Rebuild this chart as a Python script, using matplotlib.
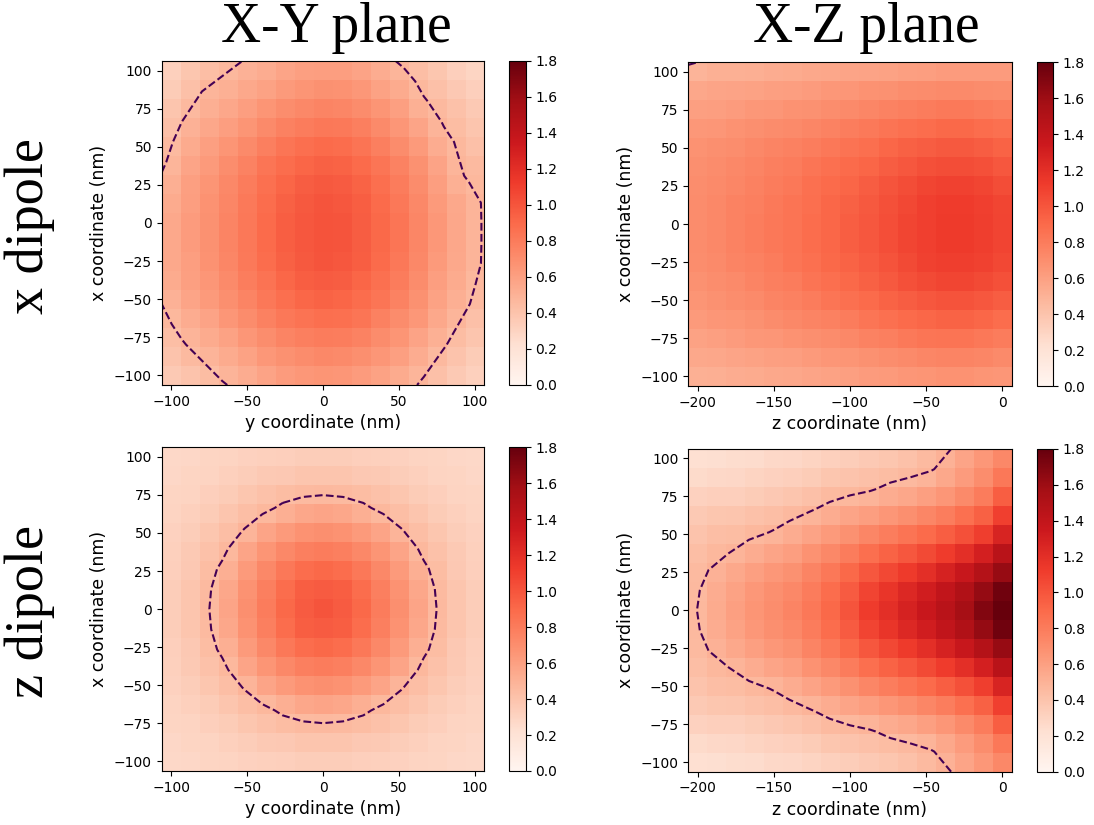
import numpy as np
import matplotlib
matplotlib.use("Agg")
import matplotlib.pyplot as plt

# ---------------- data (rows listed top -> bottom, i.e. x = +100 ... -100) -------------
x_nm = [-100, -87.5, -75, -62.5, -50, -37.5, -25, -12.5, 0, 12.5, 25, 37.5, 50, 62.5, 75, 87.5, 100]
y_nm = [-100, -87.5, -75, -62.5, -50, -37.5, -25, -12.5, 0, 12.5, 25, 37.5, 50, 62.5, 75, 87.5, 100]
z_nm = [-200, -187.5, -175, -162.5, -150, -137.5, -125, -112.5, -100, -87.5, -75, -62.5, -50, -37.5, -25, -12.5, 0]

xdip_xy = [
    [.32, .38, .43, .47, .50, .53, .57, .60, .61, .61, .58, .53, .48, .43, .38, .33, .29],
    [.35, .42, .48, .51, .55, .59, .63, .66, .68, .67, .64, .59, .54, .47, .42, .37, .33],
    [.39, .46, .52, .56, .61, .66, .70, .73, .75, .74, .71, .66, .60, .51, .46, .41, .36],
    [.42, .50, .56, .61, .66, .72, .77, .80, .82, .81, .78, .72, .65, .57, .49, .44, .39],
    [.45, .54, .60, .66, .72, .78, .83, .87, .89, .88, .84, .78, .71, .63, .53, .47, .42],
    [.48, .57, .63, .70, .76, .83, .88, .92, .94, .93, .89, .83, .76, .68, .58, .48, .45],
    [.52, .60, .66, .73, .80, .86, .92, .96, .98, .97, .93, .87, .80, .71, .61, .51, .47],
    [.54, .61, .67, .74, .81, .88, .94, .98, 1.00, .99, .95, .89, .82, .73, .63, .55, .49],
    [.55, .62, .68, .75, .82, .89, .95, .99, 1.01, 1.00, .96, .90, .83, .74, .64, .56, .49],
    [.55, .62, .68, .75, .82, .89, .95, .99, 1.01, 1.00, .96, .90, .83, .74, .64, .56, .49],
    [.55, .61, .67, .74, .81, .88, .94, .98, 1.00, .99, .95, .89, .82, .73, .63, .55, .49],
    [.54, .60, .65, .72, .79, .85, .91, .95, .97, .96, .92, .86, .80, .71, .61, .54, .47],
    [.50, .57, .63, .69, .75, .82, .87, .91, .93, .92, .88, .83, .76, .68, .59, .52, .45],
    [.47, .53, .58, .65, .71, .77, .82, .85, .87, .86, .83, .77, .71, .64, .55, .48, .42],
    [.43, .49, .54, .59, .65, .70, .75, .78, .80, .79, .76, .71, .66, .58, .51, .44, .39],
    [.40, .45, .49, .54, .59, .64, .68, .71, .73, .72, .69, .65, .60, .53, .46, .40, .35],
    [.36, .40, .44, .49, .53, .58, .62, .64, .66, .65, .62, .59, .54, .48, .42, .36, .32],
]

xdip_xz = [
    [.49, .51, .51, .52, .53, .54, .55, .56, .57, .58, .59, .60, .61, .62, .62, .62, .62],
    [.56, .57, .58, .59, .60, .61, .62, .64, .65, .67, .68, .70, .71, .72, .72, .71, .70],
    [.60, .61, .62, .64, .65, .67, .68, .70, .72, .74, .76, .78, .80, .81, .81, .80, .78],
    [.64, .65, .67, .69, .71, .72, .74, .76, .79, .81, .84, .86, .88, .90, .90, .88, .86],
    [.67, .69, .70, .73, .75, .77, .79, .82, .85, .87, .91, .94, .96, .98, .98, .96, .93],
    [.69, .71, .73, .75, .78, .80, .83, .86, .89, .92, .96, .99, 1.02, 1.04, 1.04, 1.02, .99],
    [.70, .72, .74, .77, .80, .82, .86, .89, .92, .96, 1.00, 1.04, 1.07, 1.09, 1.09, 1.07, 1.04],
    [.71, .73, .76, .78, .81, .84, .87, .91, .94, .98, 1.02, 1.06, 1.10, 1.12, 1.12, 1.10, 1.07],
    [.71, .73, .76, .79, .82, .84, .88, .91, .95, .99, 1.03, 1.07, 1.10, 1.13, 1.13, 1.11, 1.08],
    [.71, .73, .76, .79, .82, .84, .88, .91, .95, .99, 1.03, 1.07, 1.10, 1.13, 1.13, 1.11, 1.08],
    [.70, .72, .75, .77, .80, .83, .86, .90, .93, .97, 1.01, 1.05, 1.09, 1.11, 1.11, 1.09, 1.06],
    [.68, .70, .72, .75, .78, .80, .84, .87, .90, .94, .98, 1.02, 1.05, 1.07, 1.07, 1.05, 1.02],
    [.66, .68, .70, .72, .75, .77, .80, .83, .86, .89, .93, .96, .99, 1.01, 1.01, .99, .96],
    [.63, .65, .66, .68, .71, .73, .75, .77, .80, .83, .86, .89, .91, .93, .93, .91, .88],
    [.59, .60, .62, .64, .65, .67, .69, .71, .73, .76, .78, .81, .83, .84, .84, .82, .80],
    [.55, .56, .57, .59, .60, .61, .63, .65, .66, .68, .70, .72, .74, .75, .75, .74, .72],
    [.51, .52, .53, .54, .55, .56, .57, .59, .60, .62, .63, .65, .66, .67, .67, .66, .65],
]

zdip_xy = [
    [.27, .28, .29, .30, .31, .32, .33, .34, .34, .34, .33, .32, .31, .30, .29, .28, .27],
    [.28, .29, .30, .32, .34, .36, .37, .39, .39, .39, .37, .36, .34, .32, .30, .29, .28],
    [.29, .30, .33, .35, .38, .41, .44, .45, .46, .45, .44, .41, .38, .35, .33, .30, .29],
    [.30, .32, .35, .39, .43, .47, .52, .56, .57, .56, .52, .47, .43, .39, .35, .32, .30],
    [.31, .34, .38, .43, .49, .57, .63, .67, .69, .67, .63, .57, .49, .43, .38, .34, .31],
    [.32, .36, .41, .47, .57, .66, .73, .78, .80, .78, .73, .66, .57, .47, .41, .36, .32],
    [.33, .37, .44, .52, .63, .73, .82, .88, .90, .88, .82, .73, .63, .52, .44, .37, .33],
    [.34, .39, .45, .56, .67, .78, .88, .95, .97, .95, .88, .78, .67, .56, .45, .39, .34],
    [.34, .39, .46, .57, .69, .80, .90, .97, 1.00, .97, .90, .80, .69, .57, .46, .39, .34],
    [.34, .39, .45, .56, .67, .78, .88, .95, .97, .95, .88, .78, .67, .56, .45, .39, .34],
    [.33, .37, .44, .52, .63, .73, .82, .88, .90, .88, .82, .73, .63, .52, .44, .37, .33],
    [.32, .36, .41, .47, .57, .66, .73, .78, .80, .78, .73, .66, .57, .47, .41, .36, .32],
    [.31, .34, .38, .43, .49, .57, .63, .67, .69, .67, .63, .57, .49, .43, .38, .34, .31],
    [.30, .32, .35, .39, .43, .47, .52, .56, .57, .56, .52, .47, .43, .39, .35, .32, .30],
    [.29, .30, .33, .35, .38, .41, .44, .45, .46, .45, .44, .41, .38, .35, .33, .30, .29],
    [.28, .29, .30, .32, .34, .36, .37, .39, .39, .39, .37, .36, .34, .32, .30, .29, .28],
    [.27, .28, .29, .30, .31, .32, .33, .34, .34, .34, .33, .32, .31, .30, .29, .28, .27],
]

zdip_xz = [
    [.22, .23, .24, .25, .27, .28, .30, .32, .34, .36, .38, .41, .45, .50, .57, .64, .73],
    [.26, .27, .28, .30, .31, .33, .35, .38, .40, .42, .44, .46, .49, .55, .62, .70, .82],
    [.31, .33, .33, .35, .37, .39, .42, .45, .47, .49, .53, .56, .60, .65, .72, .80, .95],
    [.36, .38, .39, .41, .43, .46, .49, .53, .57, .61, .65, .69, .74, .79, .86, .94, 1.10],
    [.40, .43, .44, .47, .49, .53, .58, .63, .68, .74, .79, .84, .89, .95, 1.02, 1.11, 1.27],
    [.43, .47, .49, .53, .57, .61, .67, .73, .80, .87, .93, .99, 1.05, 1.12, 1.20, 1.30, 1.45],
    [.45, .50, .55, .60, .64, .68, .75, .82, .90, .99, 1.06, 1.13, 1.20, 1.28, 1.37, 1.48, 1.62],
    [.46, .53, .59, .64, .69, .73, .80, .88, .97, 1.08, 1.16, 1.24, 1.31, 1.40, 1.50, 1.63, 1.76],
    [.47, .54, .60, .66, .70, .75, .82, .90, 1.00, 1.12, 1.20, 1.28, 1.36, 1.45, 1.56, 1.70, 1.80],
    [.46, .53, .59, .64, .69, .73, .80, .88, .97, 1.08, 1.16, 1.24, 1.31, 1.40, 1.50, 1.63, 1.76],
    [.45, .50, .55, .60, .64, .68, .75, .82, .90, .99, 1.06, 1.13, 1.20, 1.28, 1.37, 1.48, 1.62],
    [.43, .47, .49, .53, .57, .61, .67, .73, .80, .87, .93, .99, 1.05, 1.12, 1.20, 1.30, 1.45],
    [.40, .43, .44, .47, .49, .53, .58, .63, .68, .74, .79, .84, .89, .95, 1.02, 1.11, 1.27],
    [.36, .38, .39, .41, .43, .46, .49, .53, .57, .61, .65, .69, .74, .79, .86, .94, 1.10],
    [.31, .33, .33, .35, .37, .39, .42, .45, .47, .49, .53, .56, .60, .65, .72, .80, .95],
    [.26, .27, .28, .30, .31, .33, .35, .38, .40, .42, .44, .46, .49, .55, .62, .70, .82],
    [.22, .23, .24, .25, .27, .28, .30, .32, .34, .36, .38, .41, .45, .50, .57, .64, .73],
]

col_titles = ["X-Y plane", "X-Z plane"]
row_titles = ["x dipole", "z dipole"]
cbar_ticks = [0.0, 0.2, 0.4, 0.6, 0.8, 1.0, 1.2, 1.4, 1.6, 1.8]
contour_level = [0.5]
vmin, vmax = 0.0, 1.8

# ---------------- figure ----------------
W, H = 1094, 825
fig = plt.figure(figsize=(W / 100, H / 100), dpi=100)


def fx(px):
    return px / W


def fy(py):
    return 1 - py / H


panels = [
    # (data, horizontal coords, xlabel, xticks, axes px box [left, top, right, bottom], cbar left px)
    (xdip_xy, y_nm, "y coordinate (nm)", [-100, -50, 0, 50, 100], (161.7, 61.0, 484.3, 385.0), 509.3),
    (xdip_xz, z_nm, "z coordinate (nm)", [-200, -150, -100, -50, 0], (688.3, 62.0, 1011.7, 386.0), 1036.7),
    (zdip_xy, y_nm, "y coordinate (nm)", [-100, -50, 0, 50, 100], (161.7, 447.3, 484.3, 771.0), 509.3),
    (zdip_xz, z_nm, "z coordinate (nm)", [-200, -150, -100, -50, 0], (688.3, 449.0, 1011.7, 771.7), 1036.7),
]

for data, hcoords, xlabel, xticks, box, cbl in panels:
    Z = np.array(data)
    l, t, r, b = box
    ax = fig.add_axes([fx(l), fy(b), fx(r - l), (b - t) / H])
    dh = hcoords[1] - hcoords[0]
    dv = x_nm[1] - x_nm[0]
    ext = [hcoords[0] - dh / 2, hcoords[-1] + dh / 2, x_nm[0] - dv / 2, x_nm[-1] + dv / 2]
    im = ax.imshow(Z, cmap="Reds", vmin=vmin, vmax=vmax, origin="upper",
                   extent=ext, aspect="auto", interpolation="nearest")
    Xc = np.linspace(ext[0], ext[1], Z.shape[1])
    Yc = np.linspace(ext[3], ext[2], Z.shape[0])
    ax.contour(Xc, Yc, Z, levels=contour_level, colors="#440154",
               linestyles="--", linewidths=1.5)
    ax.set_xlim(ext[0], ext[1])
    ax.set_ylim(ext[2], ext[3])
    ax.set_xticks(xticks)
    ax.set_yticks([-100, -75, -50, -25, 0, 25, 50, 75, 100])
    ax.tick_params(labelsize=10)
    ax.set_xlabel(xlabel, fontsize=12.5)
    ax.set_ylabel("x coordinate (nm)", fontsize=12.5)
    cax = fig.add_axes([fx(cbl), fy(b), fx(16.4), (b - t) / H])
    cb = fig.colorbar(im, cax=cax, ticks=cbar_ticks)
    cb.ax.tick_params(labelsize=10)

serif = ["Liberation Serif", "DejaVu Serif"]
fig.text(fx(336), fy(42), col_titles[0], fontsize=40, family=serif, ha="center", va="baseline")
fig.text(fx(866), fy(42), col_titles[1], fontsize=40, family=serif, ha="center", va="baseline")
fig.text(fx(30), fy(226), row_titles[0], fontsize=39, family=serif, rotation=90, ha="center", va="center")
fig.text(fx(30), fy(611), row_titles[1], fontsize=39, family=serif, rotation=90, ha="center", va="center")

fig.savefig("out.png", dpi=100)
